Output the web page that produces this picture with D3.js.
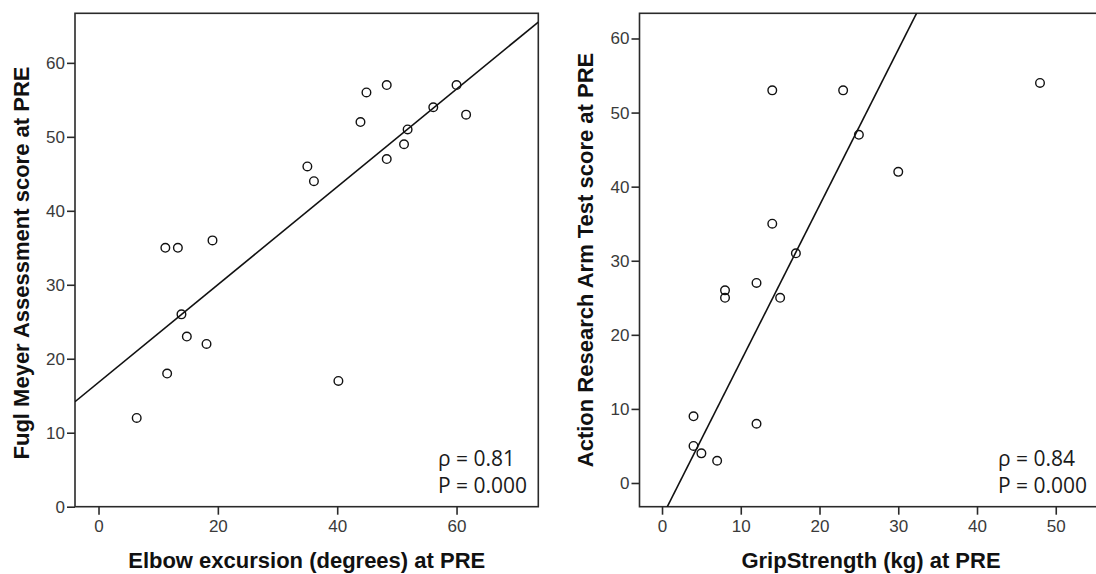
<!DOCTYPE html>
<html>
<head>
<meta charset="utf-8">
<script src="https://cdn.jsdelivr.net/npm/d3@7"></script>
<style>
  html, body { margin: 0; padding: 0; background: #fff; }
  svg { display: block; overflow: hidden; }
</style>
</head>
<body>
<svg id="chart" width="1096" height="574"></svg>
<script>
// ---- Data ----
// Left panel: Elbow excursion (degrees) vs Fugl Meyer score
const elbowExcursion = [11.2, 13.3, 19.1, 35.0, 36.1, 43.9, 44.9, 48.3, 48.3, 51.2, 51.8, 56.1, 60.0, 61.6, 13.9, 14.8, 18.1, 11.5, 6.4, 40.2];
const fuglMeyer      = [35,   35,   36,   46,   44,   52,   56,   57,   47,   49,   51,   54,   57,   53,   26,   23,   22,   18,   12,  17];
// Right panel: Grip strength (kg) vs ARAT score
const gripStrength = [14, 23, 48, 25, 30, 14, 17, 12, 8,  8,  15, 4, 12, 4, 5, 7];
const aratScore    = [53, 53, 54, 47, 42, 35, 31, 27, 26, 25, 25, 9, 8,  5, 4, 3];
// Fitted lines (intercept, slope)
const fitLeft  = [16.8, 0.661];
const fitRight = [-4.61, 2.104];
// Tick values
const leftXTicks  = [0, 20, 40, 60];
const leftYTicks  = [0, 10, 20, 30, 40, 50, 60];
const rightXTicks = [0, 10, 20, 30, 40, 50];
const rightYTicks = [0, 10, 20, 30, 40, 50, 60];
// Labels
const leftXTitle  = "Elbow excursion (degrees) at PRE";
const leftYTitle  = "Fugl Meyer Assessment score at PRE";
const rightXTitle = "GripStrength (kg) at PRE";
const rightYTitle = "Action Research Arm Test score at PRE";
const leftStats  = ["ρ = 0.81", "P = 0.000"];
const rightStats = ["ρ = 0.84", "P = 0.000"];

// ---- Drawing ----
const svg = d3.select("#chart");
const AXIS = "#2a2a2a";

function panel(cfg) {
  const x = d3.scaleLinear().domain(cfg.xDomain).range(cfg.xRange);
  const y = d3.scaleLinear().domain(cfg.yDomain).range(cfg.yRange);
  const g = svg.append("g");
  const [x0, x1] = cfg.xRange, [y0, y1] = cfg.yRange;

  const clipId = "clip" + cfg.id;
  svg.append("clipPath").attr("id", clipId)
    .append("rect").attr("x", x0).attr("y", y1).attr("width", x1 - x0).attr("height", y0 - y1);

  // frame
  g.append("rect").attr("x", x0).attr("y", y1).attr("width", x1 - x0).attr("height", y0 - y1)
    .attr("fill", "none").attr("stroke", AXIS).attr("stroke-width", 1.6);

  // axes
  const ax = g.append("g").attr("transform", `translate(0,${y0})`)
    .call(d3.axisBottom(x).tickValues(cfg.xTicks).tickSize(8).tickPadding(5).tickFormat(d3.format("d")));
  const ay = g.append("g").attr("transform", `translate(${x0},0)`)
    .call(d3.axisLeft(y).tickValues(cfg.yTicks).tickSize(8).tickPadding(2).tickFormat(d3.format("d")));
  [ax, ay].forEach(a => {
    a.select(".domain").remove();
    a.selectAll(".tick line").attr("stroke", AXIS).attr("stroke-width", 1.6);
    a.selectAll(".tick text").attr("fill", "#3a3a3a")
      .style("font-family", "'Liberation Sans', Arial, sans-serif").style("font-size", "17px");
  });

  // fit line
  const xd = cfg.xDomain;
  g.append("line").attr("clip-path", `url(#${clipId})`)
    .attr("x1", x(xd[0])).attr("y1", y(cfg.fit[0] + cfg.fit[1] * xd[0]))
    .attr("x2", x(xd[1])).attr("y2", y(cfg.fit[0] + cfg.fit[1] * xd[1]))
    .attr("stroke", "#111").attr("stroke-width", 1.6);

  // points
  g.append("g").selectAll("circle").data(cfg.xs.map((v, i) => [v, cfg.ys[i]]))
    .join("circle")
    .attr("cx", d => x(d[0])).attr("cy", d => y(d[1])).attr("r", 4.3)
    .attr("fill", "none").attr("stroke", "#111").attr("stroke-width", 1.4);

  // stats
  cfg.stats.forEach((s, i) => {
    g.append("text").attr("x", cfg.statX).attr("y", cfg.statY[i]).text(s)
      .attr("fill", "#1a1a1a")
      .style("font-family", "'Open Sans', 'Noto Sans', sans-serif").style("font-size", "21px");
  });

  // titles
  g.append("text").attr("x", cfg.xTitleX).attr("y", 568).attr("text-anchor", "middle")
    .text(cfg.xTitle).attr("fill", "#111")
    .style("font-family", "'Liberation Sans', Arial, sans-serif").style("font-weight", "bold").style("font-size", "22px");
  g.append("text").attr("transform", `translate(${cfg.yTitleX},${cfg.yTitleY}) rotate(-90)`)
    .attr("text-anchor", "middle").text(cfg.yTitle).attr("fill", "#111")
    .style("font-family", "'Liberation Sans', Arial, sans-serif").style("font-weight", "bold").style("font-size", "22px");
}

panel({
  id: "L", xs: elbowExcursion, ys: fuglMeyer, fit: fitLeft,
  xDomain: [-3.94, 73.7], xRange: [75, 538.3],
  yDomain: [0, 66.7], yRange: [506.7, 13.3],
  xTicks: leftXTicks, yTicks: leftYTicks,
  stats: leftStats, statX: 438, statY: [466, 493],
  xTitle: leftXTitle, xTitleX: 306.7, yTitle: leftYTitle, yTitleX: 29, yTitleY: 263
});

panel({
  id: "R", xs: gripStrength, ys: aratScore, fit: fitRight,
  xDomain: [-2.86, 56.0], xRange: [639.5, 1103],
  yDomain: [-3.2, 63.4], yRange: [506.7, 13.3],
  xTicks: rightXTicks, yTicks: rightYTicks,
  stats: rightStats, statX: 998, statY: [466, 493],
  xTitle: rightXTitle, xTitleX: 871, yTitle: rightYTitle, yTitleX: 593, yTitleY: 260
});
</script>
</body>
</html>
